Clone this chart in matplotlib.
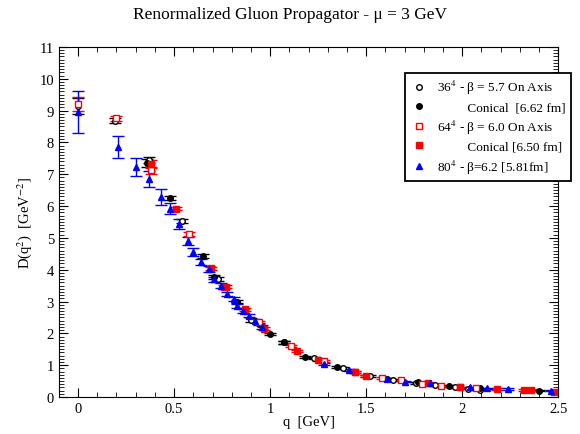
import matplotlib
matplotlib.use('Agg')
import matplotlib.pyplot as plt
from matplotlib.lines import Line2D
from matplotlib.ticker import MultipleLocator

plt.rcParams['font.family'] = ['Liberation Serif', 'DejaVu Serif']
plt.rcParams['mathtext.fontset'] = 'stix'

# 36^4, beta = 5.7, on axis (open black circles)
q36_axis = [0.0, 0.19, 0.37, 0.54, 0.73, 0.90, 1.07, 1.23, 1.38, 1.52, 1.64, 1.76, 1.86, 1.96, 2.03, 2.09]
d36_axis = [9.15, 8.68, 7.45, 5.53, 3.72, 2.42, 1.72, 1.22, 0.90, 0.66, 0.53, 0.45, 0.38, 0.30, 0.26, 0.23]
e36_axis = [0.25, 0.08, 0.10, 0.07, 0.06, 0.05, 0.04, 0.04, 0.03, 0.03, 0.03, 0.03, 0.03, 0.02, 0.02, 0.02]

# 36^4 conical (filled black circles)
q36_con = [0.36, 0.48, 0.65, 0.71, 0.83, 0.94, 1.00, 1.07, 1.18, 1.35, 1.50, 1.61, 1.77, 1.93, 2.09, 2.40]
d36_con = [7.36, 6.25, 4.43, 3.77, 2.99, 2.30, 1.98, 1.72, 1.27, 0.94, 0.66, 0.57, 0.46, 0.36, 0.27, 0.20]
e36_con = [0.12, 0.07, 0.06, 0.05, 0.05, 0.04, 0.04, 0.04, 0.03, 0.03, 0.03, 0.02, 0.02, 0.02, 0.02, 0.02]

# 64^4, beta = 6.0, on axis (open red squares)
q64_axis = [0.0, 0.20, 0.38, 0.575, 0.76, 0.94, 1.11, 1.28, 1.44, 1.58, 1.68, 1.79, 1.89, 1.99, 2.07]
d64_axis = [9.20, 8.75, 7.12, 5.12, 3.45, 2.35, 1.60, 1.12, 0.80, 0.60, 0.52, 0.42, 0.34, 0.30, 0.27]
e64_axis = [0.22, 0.08, 0.10, 0.07, 0.06, 0.05, 0.04, 0.03, 0.03, 0.03, 0.02, 0.02, 0.02, 0.02, 0.02]

# 64^4 conical (filled red squares)
q64_con = [0.38, 0.51, 0.69, 0.77, 0.87, 0.97, 1.14, 1.25, 1.44, 1.50, 1.82, 1.99, 2.18, 2.32, 2.36, 2.48]
d64_con = [7.33, 5.92, 4.05, 3.46, 2.75, 2.15, 1.45, 1.16, 0.78, 0.66, 0.44, 0.30, 0.25, 0.22, 0.22, 0.17]
e64_con = [0.12, 0.06, 0.05, 0.05, 0.04, 0.04, 0.03, 0.03, 0.03, 0.03, 0.02, 0.02, 0.02, 0.02, 0.02, 0.02]

# 80^4, beta = 6.2 (blue triangles)
q80 = [0.0, 0.21, 0.30, 0.37, 0.43, 0.48, 0.525, 0.57, 0.60, 0.64,
       0.68, 0.71, 0.745, 0.775, 0.81, 0.83, 0.86, 0.89, 0.92, 0.96,
       1.28, 1.41, 1.61, 1.70, 1.83, 2.04, 2.13, 2.24, 2.46]
d80 = [8.95, 7.85, 7.22, 6.85, 6.29, 5.92, 5.44, 4.90, 4.56, 4.24,
       4.02, 3.70, 3.50, 3.24, 3.08, 2.86, 2.70, 2.55, 2.40, 2.20,
       1.04, 0.85, 0.57, 0.48, 0.43, 0.30, 0.27, 0.25, 0.20]
e80 = [0.65, 0.35, 0.28, 0.25, 0.25, 0.16, 0.16, 0.14, 0.12, 0.10,
       0.10, 0.08, 0.08, 0.07, 0.07, 0.06, 0.06, 0.05, 0.05, 0.05,
       0.03, 0.03, 0.02, 0.02, 0.02, 0.02, 0.02, 0.02, 0.02]

labels = ['36$^4$ - β = 5.7 On Axis',
          '         Conical  [6.62 fm]',
          '64$^4$ - β = 6.0 On Axis',
          '         Conical [6.50 fm]',
          '80$^4$ - β=6.2 [5.81fm]']

fig = plt.figure(figsize=(5.8, 4.35), dpi=100)
ax = fig.add_axes([0.1015, 0.085, 0.861, 0.805])

kw = dict(linestyle='none', capsize=4, elinewidth=1, capthick=1, markersize=4)
ax.errorbar(q36_axis, d36_axis, yerr=e36_axis, marker='o', color='black', mfc='white', **kw)
ax.errorbar(q36_con, d36_con, yerr=e36_con, marker='o', color='black', **kw)
ax.errorbar(q64_axis, d64_axis, yerr=e64_axis, marker='s', color='red', mfc='white', **kw)
ax.errorbar(q64_con, d64_con, yerr=e64_con, marker='s', color='red', **kw)
ax.errorbar(q80, d80, yerr=e80, marker='^', color='blue', **kw)

handles = [
    Line2D([], [], ls='none', marker='o', color='black', mfc='white', markersize=4),
    Line2D([], [], ls='none', marker='o', color='black', markersize=4),
    Line2D([], [], ls='none', marker='s', color='red', mfc='white', markersize=4),
    Line2D([], [], ls='none', marker='s', color='red', markersize=4),
    Line2D([], [], ls='none', marker='^', color='blue', markersize=4),
]
leg = ax.legend(handles, labels, loc='upper right', fontsize=9.5, fancybox=False,
                edgecolor='black', handlelength=1.2, borderaxespad=0,
                labelspacing=0.35, bbox_to_anchor=(571 / 580, 1 - 74 / 435),
                bbox_transform=fig.transFigure, framealpha=1)
leg.get_frame().set_linewidth(1.3)

ax.set_xlim(-0.1, 2.5)
ax.set_ylim(0, 11)
ax.xaxis.set_major_locator(MultipleLocator(0.5))
ax.xaxis.set_minor_locator(MultipleLocator(0.1))
ax.yaxis.set_major_locator(MultipleLocator(1))
ax.yaxis.set_minor_locator(MultipleLocator(0.1))
ax.tick_params(which='both', direction='in', top=True, right=True, labelsize=10.5)
ax.tick_params(which='major', length=6.5)
ax.tick_params(which='minor', length=3.5)
ax.set_xticks([0, 0.5, 1, 1.5, 2, 2.5])
ax.set_xticklabels(['0', '0.5', '1', '1.5', '2', '2.5'])

ax.set_xlabel('q  [GeV]', fontsize=10.5, labelpad=0)
ax.set_ylabel('D(q$^2$)  [GeV$^{-2}$]', fontsize=10.5, labelpad=4)
fig.suptitle('Renormalized Gluon Propagator - μ = 3 GeV', fontsize=12.5, y=0.985)

fig.savefig('out.png', dpi=100)
